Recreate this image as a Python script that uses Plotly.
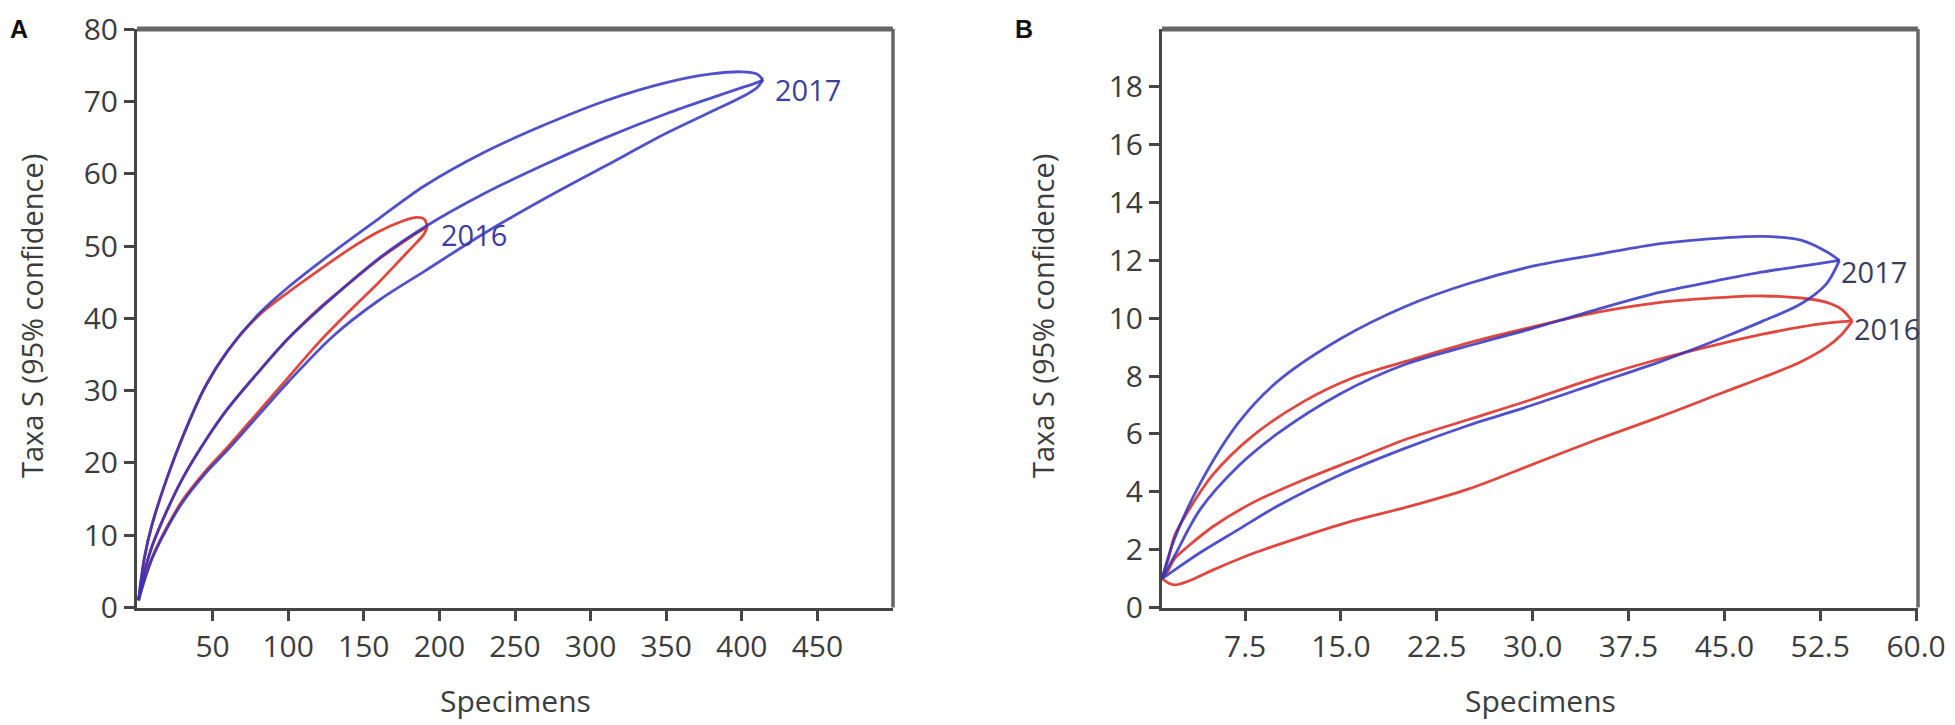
"""
Rarefaction curves (Taxa S, 95% confidence) for 2016 and 2017, panels A and B
"""
import plotly.graph_objects as go

# region Data
# Panel A
A_X_2017 = [1, 5, 10, 20, 30, 45, 60, 80, 100, 130, 160, 190, 230, 270, 310, 350, 380, 400, 410, 414]
A_UP_2017 = [1, 7, 11.5, 18, 23.5, 30.5, 35.5, 40.5, 44.3, 49.2, 53.8, 58.3, 63, 66.8, 70.1, 72.6, 73.8, 74.1, 73.8, 73]
A_MEAN_2017 = [1, 5, 8.5, 13.5, 17.8, 23, 27.5, 32.5, 37.2, 43, 48.3, 52.6, 57.3, 61.3, 65, 68.3, 70.5, 71.9, 72.6, 73]
A_LOW_2017 = [1, 3.8, 6.8, 11, 14.5, 18.5, 21.8, 26.5, 31.2, 37.6, 42.5, 46.5, 51.8, 56.6, 61.1, 65.6, 68.6, 70.6, 71.9, 73]

A_X_2016 = [1, 5, 10, 20, 30, 45, 60, 80, 100, 120, 140, 160, 175, 185, 190, 192]
A_UP_2016 = [1, 7, 11.5, 18, 23.5, 30.5, 35.5, 40.3, 43.6, 46.6, 49.5, 52, 53.4, 53.95, 53.7, 52.7]
A_MEAN_2016 = [1, 5, 8.5, 13.5, 17.8, 23, 27.5, 32.5, 37.2, 41.3, 44.8, 48.2, 50.4, 51.8, 52.4, 52.7]
A_LOW_2016 = [1, 3.9, 6.9, 11.2, 14.8, 18.8, 22.2, 27, 31.8, 36.6, 40.9, 45, 48.3, 50.5, 51.7, 52.7]

# Panel B
B_X_2017 = [1, 2, 4, 7, 10, 15, 20, 25, 30, 35, 40, 45, 48, 51, 53, 54]
B_UP_2017 = [1, 2.4, 4.3, 6.4, 7.8, 9.3, 10.4, 11.2, 11.8, 12.2, 12.58, 12.78, 12.83, 12.7, 12.3, 12]
B_MEAN_2017 = [1, 1.8, 3.4, 4.9, 6.0, 7.4, 8.4, 9.05, 9.65, 10.3, 10.9, 11.35, 11.6, 11.8, 11.93, 12]
B_LOW_2017 = [1, 1.3, 1.9, 2.7, 3.5, 4.6, 5.5, 6.3, 7.0, 7.75, 8.5, 9.35, 9.9, 10.5, 11.2, 12]

B_X_2016 = [1, 1.5, 2, 3, 5, 8, 12, 16, 20, 25, 30, 35, 40, 45, 48, 51, 53, 54.2, 55]
B_UP_2016 = [1, 1.7, 2.5, 3.3, 4.6, 5.9, 7.1, 7.95, 8.5, 9.15, 9.7, 10.2, 10.55, 10.72, 10.77, 10.7, 10.55, 10.3, 9.9]
B_MEAN_2016 = [1, 1.3, 1.7, 2.1, 2.8, 3.6, 4.4, 5.1, 5.8, 6.5, 7.2, 7.95, 8.6, 9.15, 9.45, 9.7, 9.83, 9.88, 9.9]
B_LOW_2016 = [1, 0.85, 0.78, 0.9, 1.3, 1.85, 2.45, 3.0, 3.45, 4.1, 4.95, 5.8, 6.6, 7.45, 7.95, 8.5, 9.0, 9.45, 9.9]

A_XTICKS = [50, 100, 150, 200, 250, 300, 350, 400, 450]
A_YTICKS = [0, 10, 20, 30, 40, 50, 60, 70, 80]
B_XTICKS = [7.5, 15.0, 22.5, 30.0, 37.5, 45.0, 52.5, 60.0]
B_YTICKS = [0, 2, 4, 6, 8, 10, 12, 14, 16, 18]
# endregion

# region Style
# the page body keeps an 8 px margin, so the figure is 8 px smaller on each
# side and every position below is given in page pixels
PAGE_OFF = 8
W, H = 1955 - PAGE_OFF, 725 - PAGE_OFF
BLUE = "#3333c0"
RED = "#e0483f"
AXIS_COL = "#454545"
FRAME_COL = "#666666"
TXT_COL = "#3c3c3c"
FONT = "Open Sans"
TICK_FONT = dict(family=FONT, size=30, color=TXT_COL)


def px_x(p):
    return (p - PAGE_OFF) / W


def px_y(p):
    return (H - (p - PAGE_OFF)) / H
# endregion

# region Figure
fig = go.Figure()

panels = [
    ("x", "y", [
        (A_X_2016, [A_UP_2016, A_MEAN_2016, A_LOW_2016], RED, 1.0),
        (A_X_2017, [A_UP_2017, A_MEAN_2017, A_LOW_2017], BLUE, 0.85),
    ]),
    ("x2", "y2", [
        (B_X_2016, [B_UP_2016, B_MEAN_2016, B_LOW_2016], RED, 1.0),
        (B_X_2017, [B_UP_2017, B_MEAN_2017, B_LOW_2017], BLUE, 0.85),
    ]),
]
for xa, ya, series in panels:
    for xs, ys_list, col, op in series:
        for ys in ys_list:
            fig.add_trace(go.Scatter(
                x=xs, y=ys, xaxis=xa, yaxis=ya,
                mode="lines", opacity=op,
                line=dict(color=col, width=2.8, shape="spline", smoothing=0.9),
                showlegend=False, hoverinfo="skip",
            ))

axis_common = dict(
    showgrid=False, zeroline=False,
    showline=True, linecolor=AXIS_COL, linewidth=3,
    ticks="outside", ticklen=10, tickwidth=2.5, tickcolor=AXIS_COL,
    tickfont=TICK_FONT, ticklabeloverflow="allow", automargin=False,
)

y_dom = [px_y(607.5), px_y(29)]

fig.update_layout(
    width=W, height=H,
    margin=dict(l=0, r=0, t=0, b=0, autoexpand=False),
    paper_bgcolor="white", plot_bgcolor="white",
    showlegend=False,
    xaxis=dict(**axis_common, domain=[px_x(137), px_x(893)], anchor="y",
               range=[0, 500], tickvals=A_XTICKS),
    yaxis=dict(**axis_common, domain=y_dom, anchor="x",
               range=[0, 80.02], tickvals=A_YTICKS),
    xaxis2=dict(**axis_common, domain=[px_x(1162), px_x(1918)], anchor="y2",
                range=[1, 60.15], tickvals=B_XTICKS,
                ticktext=[f"{v:.1f}" for v in B_XTICKS]),
    yaxis2=dict(**axis_common, domain=y_dom, anchor="x2",
                range=[0, 20], tickvals=B_YTICKS),
)

# top and right frame lines
for xr, yr in [("x domain", "y domain"), ("x2 domain", "y2 domain")]:
    fig.add_shape(type="line", xref=xr, yref=yr, x0=0, x1=1, y0=1, y1=1,
                  line=dict(color=FRAME_COL, width=5))
    fig.add_shape(type="line", xref=xr, yref=yr, x0=1, x1=1, y0=0, y1=1,
                  line=dict(color=FRAME_COL, width=3.5))

# curve end labels
end_labels = [
    ("x", "y", A_X_2017[-1], A_MEAN_2017[-1], "2017", 10, -10, "#3d3d9e"),
    ("x", "y", A_X_2016[-1], A_MEAN_2016[-1], "2016", 12, -8, "#3d3d9e"),
    ("x2", "y2", B_X_2017[-1], B_MEAN_2017[-1], "2017", 0, -11, "#3c3c5e"),
    ("x2", "y2", B_X_2016[-1], B_MEAN_2016[-1], "2016", 0, -7, "#3c3c5e"),
]
for xr, yr, xv, yv, txt, xs, ys, col in end_labels:
    fig.add_annotation(xref=xr, yref=yr, x=xv, y=yv, text=txt, showarrow=False,
                       xanchor="left", yanchor="middle", xshift=xs, yshift=ys,
                       font=dict(family=FONT, size=29, color=col))

# axis titles and panel letters
for cx, title_x in [(515, 31), (1540, 1042)]:
    fig.add_annotation(xref="paper", yref="paper", x=px_x(cx), y=px_y(700),
                       text="Specimens", showarrow=False,
                       xanchor="center", yanchor="middle",
                       font=dict(family=FONT, size=30, color=TXT_COL))
    fig.add_annotation(xref="paper", yref="paper", x=px_x(title_x), y=px_y(316),
                       text="Taxa S (95% confidence)", showarrow=False, textangle=-90,
                       xanchor="center", yanchor="middle",
                       font=dict(family=FONT, size=29, color=TXT_COL))

for letter, lx in [("A", 8), ("B", 1013)]:
    fig.add_annotation(xref="paper", yref="paper", x=px_x(lx), y=px_y(13),
                       text=f"<b>{letter}</b>", showarrow=False,
                       xanchor="left", yanchor="top",
                       font=dict(family="Liberation Sans", size=25, color="#111111"))
# endregion

fig.write_html("out.html")
